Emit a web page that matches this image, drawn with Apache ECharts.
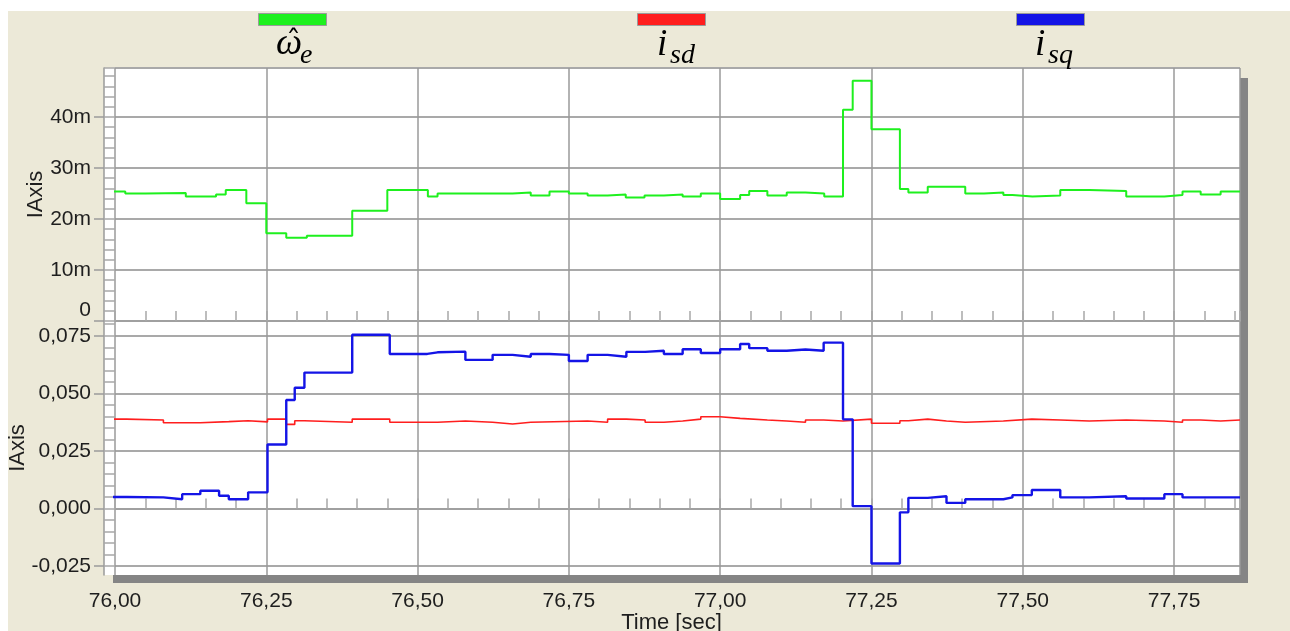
<!DOCTYPE html>
<html><head><meta charset="utf-8">
<script src="https://cdn.jsdelivr.net/npm/echarts@6/dist/echarts.min.js"></script>
<style>html,body{margin:0;padding:0;background:#fff}#c{width:1290px;height:631px}</style>
</head><body><div id="c"></div>
<script>
// ---- data (time in sec) ----
const omegaT = [75.983,76.017,76.050,76.117,76.167,76.183,76.217,76.250,76.283,76.317,
  76.392,76.450,76.517,76.533,76.657,76.687,76.718,76.750,76.781,76.814,
  76.844,76.875,76.907,76.938,76.968,77.000,77.033,77.048,77.078,77.110,
  77.141,77.172,77.203,77.219,77.250,77.297,77.311,77.343,77.405,77.436,
  77.468,77.483,77.516,77.562,77.610,77.671,77.734,77.764,77.794,77.827,77.859];
// omega_e in milli-units
const omegaV = [25.4,25.0,25.1,24.4,24.8,25.7,23.1,17.2,16.3,16.7,
  21.6,25.7,24.4,25.0,25.2,24.6,25.4,25.0,24.6,24.8,
  24.2,24.6,24.8,24.4,25.0,23.9,24.7,25.5,24.6,25.2,
  25.0,24.4,41.4,47.1,37.6,25.9,25.2,26.3,25.0,25.2,
  24.7,24.4,24.6,25.7,25.5,24.4,24.7,25.4,24.8,25.4,25.4];

const isdT = [75.983,76.019,76.080,76.141,76.188,76.220,76.252,76.283,76.297,76.313,
  76.392,76.454,76.533,76.579,76.624,76.657,76.687,76.781,76.814,76.845,
  76.876,76.907,76.938,76.968,77.000,77.033,77.078,77.110,77.141,77.171,
  77.203,77.250,77.297,77.311,77.343,77.374,77.405,77.468,77.515,77.562,
  77.610,77.671,77.734,77.764,77.794,77.827,77.859];
const isdV = [0.0388,0.0384,0.0372,0.0377,0.0381,0.0376,0.0388,0.0365,0.0381,0.0374,
  0.0388,0.0374,0.0380,0.0374,0.0367,0.0374,0.0380,0.0374,0.0388,0.0384,
  0.0374,0.0380,0.0388,0.0398,0.0391,0.0384,0.0380,0.0374,0.0384,0.0380,
  0.0388,0.0370,0.0381,0.0388,0.0380,0.0374,0.0380,0.0388,0.0384,0.0380,
  0.0384,0.0380,0.0374,0.0384,0.0380,0.0384,0.0384];

const isqT = [75.983,75.987,76.019,76.080,76.111,76.141,76.172,76.188,76.220,76.252,
  76.283,76.297,76.313,76.392,76.454,76.516,76.533,76.579,76.624,76.657,
  76.687,76.718,76.750,76.781,76.814,76.845,76.876,76.907,76.938,76.968,
  77.000,77.033,77.048,77.078,77.110,77.141,77.171,77.203,77.219,77.250,
  77.297,77.311,77.343,77.374,77.405,77.468,77.483,77.515,77.562,77.610,
  77.671,77.734,77.764,77.859];
const isqV = [0.0068,0.0050,0.0048,0.0040,0.0062,0.0077,0.0055,0.0040,0.0070,0.0278,
  0.0471,0.0524,0.0590,0.0754,0.0671,0.0678,0.0681,0.0645,0.0667,0.0659,
  0.0671,0.0667,0.0640,0.0667,0.0659,0.0680,0.0685,0.0671,0.0691,0.0675,
  0.0691,0.0714,0.0696,0.0685,0.0690,0.0685,0.0720,0.0387,0.0010,-0.0239,
  -0.0017,0.0046,0.0053,0.0024,0.0040,0.0048,0.0058,0.0080,0.0048,0.0053,
  0.0043,0.0062,0.0048,0.0048];

const xTicks = [76.00,76.25,76.50,76.75,77.00,77.25,77.50,77.75];
const topYTicks = [0,10,20,30,40];
const botYTicks = [-0.025,0.000,0.025,0.050,0.075];
const botYMinor = [-0.025,-0.020,-0.015,-0.010,-0.005,0.000,0.005,0.010,0.015,0.020,0.025,
  0.030,0.035,0.040,0.045,0.050,0.055,0.060,0.065,0.070,0.075,0.080];

const X_MIN = 76.0, X_MAX = 77.859;
const TOP_MIN = 0, TOP_MAX = 49.6;
const BOT_MIN = -0.0289, BOT_MAX = 0.0814;

const pairs = (t, v) => t.map((x, i) => [x, v[i]]);

const labelFont = {color:'#1e1e1e', fontSize:21, fontFamily:'Liberation Sans, Arial, sans-serif'};
const gridCol = '#a9a9a9';
const vGridCol = '#9a9a9a';

function mainX(gi, withLabels) {
  return {
    gridIndex: gi, type:'value', min:X_MIN, max:X_MAX, interval:0.25,
    axisLine:{show:false}, axisTick:{show:false},
    axisLabel: withLabels ? Object.assign({show:true, margin:16, showMaxLabel:false,
      formatter: v => v.toFixed(2).replace('.', ',')}, labelFont) : {show:false},
    splitLine:{show:true, lineStyle:{color:vGridCol, width:1.5}},
    name: withLabels ? 'Time [sec]' : '', nameLocation:'middle', nameGap:37, nameMoveOverlap:false,
    nameTextStyle:{color:'#1e1e1e', fontSize:22, fontFamily:'Liberation Sans, Arial, sans-serif', padding:[0,12,0,0]}
  };
}
function stripX(gi) {
  return {
    gridIndex: gi, type:'value', min:X_MIN, max:X_MAX, interval:0.05, position:'bottom',
    axisLine:{show:true, lineStyle:{color:'#a0a0a0', width:2}},
    axisTick:{show:true, inside:true, length:10, lineStyle:{color:'#a8a8a8', width:1.5}},
    axisLabel:{show:false}, splitLine:{show:false}
  };
}
const serifMain = 'italic 37px "Liberation Serif", serif';
const serifSub = 'italic 28px "Liberation Serif", serif';

const option = {
  backgroundColor:'#ffffff',
  animation:false,
  graphic:{elements:[
    {type:'rect', id:'bg', z:-10, shape:{x:8, y:11, width:1282, height:620}, style:{fill:'#ece9d8'}},
    {type:'rect', id:'plotbg', z:-9, shape:{x:104, y:68, width:1136, height:507}, style:{fill:'#ffffff'}},
    {type:'rect', id:'shR', z:-9, shape:{x:1240, y:78, width:8, height:505}, style:{fill:'#858585'}},
    {type:'rect', id:'shB', z:-9, shape:{x:113, y:575, width:1135, height:8}, style:{fill:'#858585'}},
    {type:'text', id:'tw', x:276, y:63, z:5, style:{text:'ω', font:serifMain, fill:'#000', verticalAlign:'bottom'}},
    {type:'text', id:'th', x:286, y:58, z:5, style:{text:'ˆ', font:'30px "DejaVu Serif", serif', fill:'#000', textAlign:'left', textVerticalAlign:'bottom'}},
    {type:'text', id:'te', x:300, y:70, z:5, style:{text:'e', font:serifSub, fill:'#000', verticalAlign:'bottom'}},
    {type:'text', id:'ti1', x:657, y:64, z:5, style:{text:'i', font:serifMain, fill:'#000', verticalAlign:'bottom'}},
    {type:'text', id:'tsd', x:670, y:70, z:5, style:{text:'sd', font:serifSub, fill:'#000', verticalAlign:'bottom'}},
    {type:'text', id:'ti2', x:1035, y:64, z:5, style:{text:'i', font:serifMain, fill:'#000', verticalAlign:'bottom'}},
    {type:'text', id:'tsq', x:1048, y:70, z:5, style:{text:'sq', font:serifSub, fill:'#000', verticalAlign:'bottom'}}
  ]},
  legend:[
    {left:258, top:13, padding:0, data:['ω̂e'], icon:'rect', itemWidth:68, itemHeight:12, selectedMode:false, formatter:()=>'', itemStyle:{borderColor:'#9a9a9a', borderWidth:1}},
    {left:637, top:13, padding:0, data:['isd'], icon:'rect', itemWidth:68, itemHeight:12, selectedMode:false, formatter:()=>'', itemStyle:{borderColor:'#9a9a9a', borderWidth:1}},
    {left:1016, top:13, padding:0, data:['isq'], icon:'rect', itemWidth:68, itemHeight:12, selectedMode:false, formatter:()=>'', itemStyle:{borderColor:'#9a9a9a', borderWidth:1}}
  ],
  grid:[
    {left:115, top:68, width:1125, height:253, containLabel:false, outerBoundsMode:'none'},
    {left:115, top:321, width:1125, height:254, containLabel:false, outerBoundsMode:'none'}
  ],
  xAxis:[ mainX(0,false), stripX(0), mainX(1,true), stripX(1) ],
  yAxis:[
    {gridIndex:0, type:'value', min:TOP_MIN, max:TOP_MAX, interval:10, position:'left', offset:11,
     axisLine:{show:true, lineStyle:{color:'#9a9a9a', width:1.5}},
     axisTick:{show:true, length:10, lineStyle:{color:'#9a9a9a', width:1.5}},
     axisLabel:Object.assign({margin:13, showMaxLabel:false, verticalAlignMinLabel:'bottom',
       formatter: v => (v === 0 ? '0' : v + 'm')}, labelFont),
     splitLine:{show:true, lineStyle:{color:gridCol, width:2}},
     name:'IAxis', nameLocation:'middle', nameGap:57, nameRotate:90, nameMoveOverlap:false,
     nameTextStyle:{color:'#1e1e1e', fontSize:22, fontFamily:'Liberation Sans, Arial, sans-serif'}},
    {gridIndex:0, type:'value', min:TOP_MIN, max:TOP_MAX, interval:2, position:'left', offset:11,
     axisLine:{show:false}, axisTick:{show:true, inside:true, length:11, lineStyle:{color:'#a8a8a8', width:1.5}},
     axisLabel:{show:false}, splitLine:{show:false}},
    {gridIndex:1, type:'value', min:BOT_MIN, max:BOT_MAX, position:'left', offset:11,
     axisLine:{show:true, lineStyle:{color:'#9a9a9a', width:1.5}},
     axisTick:{show:true, length:10, customValues:botYTicks, lineStyle:{color:'#9a9a9a', width:1.5}},
     axisLabel:Object.assign({margin:13, customValues:botYTicks,
       formatter: v => v.toFixed(3).replace('.', ',')}, labelFont),
     splitLine:{show:true, lineStyle:{color:gridCol, width:2}},
     name:'IAxis', nameLocation:'middle', nameGap:75, nameRotate:90, nameMoveOverlap:false,
     nameTextStyle:{color:'#1e1e1e', fontSize:22, fontFamily:'Liberation Sans, Arial, sans-serif'}},
    {gridIndex:1, type:'value', min:BOT_MIN, max:BOT_MAX, position:'left', offset:11,
     axisLine:{show:false}, axisTick:{show:true, inside:true, length:11, customValues:botYMinor, lineStyle:{color:'#a8a8a8', width:1.5}},
     axisLabel:{show:false}, splitLine:{show:false}}
  ],
  series:[
    {name:'ω̂e', type:'line', step:'end', xAxisIndex:0, yAxisIndex:0, data:pairs(omegaT, omegaV),
     showSymbol:false, symbol:'none', clip:false, color:'#1ef01e', lineStyle:{color:'#1ef01e', width:2}},
    {name:'isd', type:'line', step:'end', xAxisIndex:2, yAxisIndex:2, data:pairs(isdT, isdV),
     showSymbol:false, symbol:'none', clip:false, color:'#ff1e1e', lineStyle:{color:'#ff1e1e', width:1.6}},
    {name:'isq', type:'line', step:'end', xAxisIndex:2, yAxisIndex:2, data:pairs(isqT, isqV),
     showSymbol:false, symbol:'none', clip:false, color:'#1414e6', lineStyle:{color:'#1414e6', width:2.4}}
  ]
};
const chart = echarts.init(document.getElementById('c'), null, {renderer:'canvas'});
chart.setOption(option);
</script></body></html>
